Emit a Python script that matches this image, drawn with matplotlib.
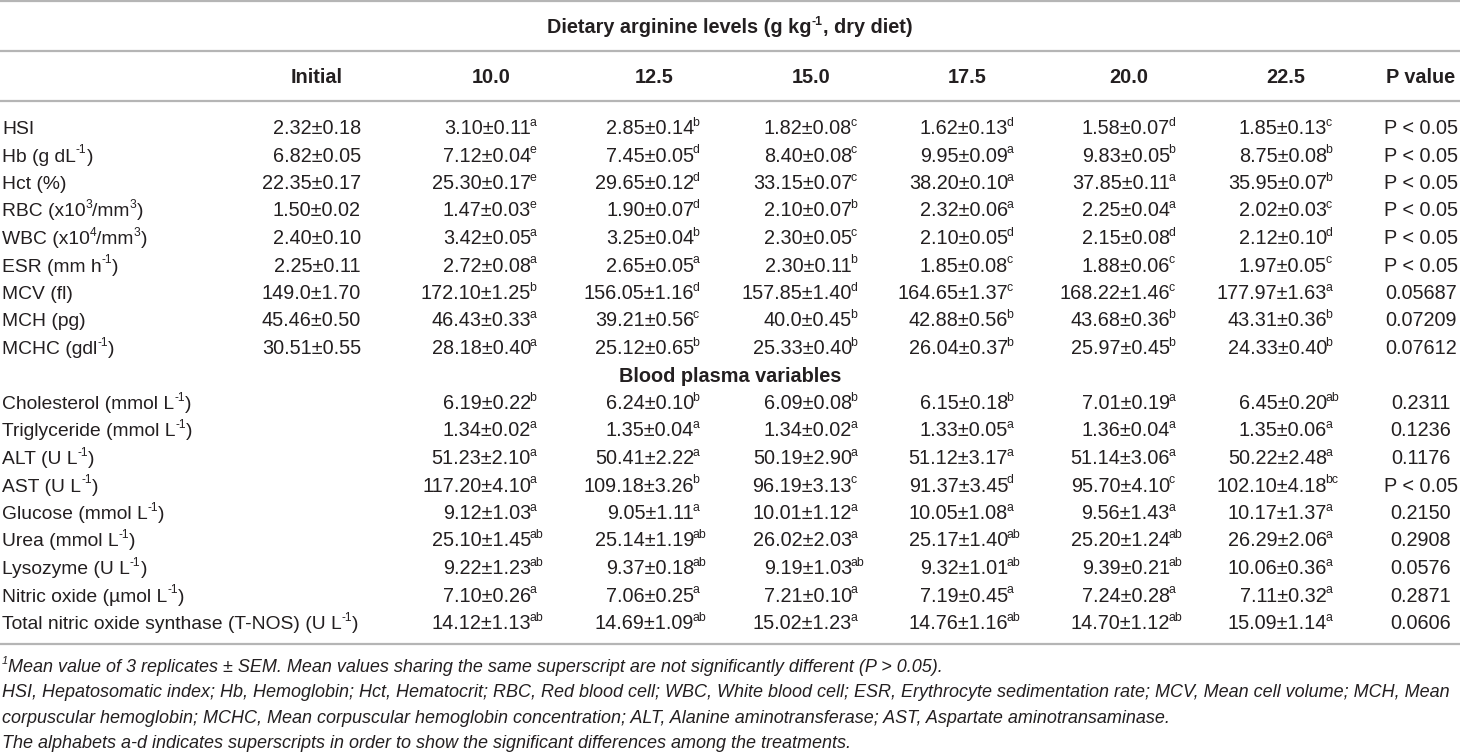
import re
import matplotlib
matplotlib.use('Agg')
import matplotlib.pyplot as plt
import matplotlib.transforms as mtransforms

plt.rcParams['font.family'] = ['Liberation Sans', 'DejaVu Sans']

# --- Table content ---
title = 'Dietary arginine levels (g kg^{-1}, dry diet)'
columns = ['Initial', '10.0', '12.5', '15.0', '17.5', '20.0', '22.5', 'P value']
plasma_title = 'Blood plasma variables'

hema_labels = ['HSI', 'Hb (g dL^{-1})', 'Hct (%)', 'RBC (x10^{3}/mm^{3})', 'WBC (x10^{4}/mm^{3})',
               'ESR (mm h^{-1})', 'MCV (fl)', 'MCH (pg)', 'MCHC (gdl^{-1})']
hema_initial = ['2.32±0.18', '6.82±0.05', '22.35±0.17', '1.50±0.02', '2.40±0.10',
                '2.25±0.11', '149.0±1.70', '45.46±0.50', '30.51±0.55']
hema_values = [
    ['3.10±0.11', '2.85±0.14', '1.82±0.08', '1.62±0.13', '1.58±0.07', '1.85±0.13'],
    ['7.12±0.04', '7.45±0.05', '8.40±0.08', '9.95±0.09', '9.83±0.05', '8.75±0.08'],
    ['25.30±0.17', '29.65±0.12', '33.15±0.07', '38.20±0.10', '37.85±0.11', '35.95±0.07'],
    ['1.47±0.03', '1.90±0.07', '2.10±0.07', '2.32±0.06', '2.25±0.04', '2.02±0.03'],
    ['3.42±0.05', '3.25±0.04', '2.30±0.05', '2.10±0.05', '2.15±0.08', '2.12±0.10'],
    ['2.72±0.08', '2.65±0.05', '2.30±0.11', '1.85±0.08', '1.88±0.06', '1.97±0.05'],
    ['172.10±1.25', '156.05±1.16', '157.85±1.40', '164.65±1.37', '168.22±1.46', '177.97±1.63'],
    ['46.43±0.33', '39.21±0.56', '40.0±0.45', '42.88±0.56', '43.68±0.36', '43.31±0.36'],
    ['28.18±0.40', '25.12±0.65', '25.33±0.40', '26.04±0.37', '25.97±0.45', '24.33±0.40'],
]
hema_letters = [
    ['a', 'b', 'c', 'd', 'd', 'c'],
    ['e', 'd', 'c', 'a', 'b', 'b'],
    ['e', 'd', 'c', 'a', 'a', 'b'],
    ['e', 'd', 'b', 'a', 'a', 'c'],
    ['a', 'b', 'c', 'd', 'd', 'd'],
    ['a', 'a', 'b', 'c', 'c', 'c'],
    ['b', 'd', 'd', 'c', 'c', 'a'],
    ['a', 'c', 'b', 'b', 'b', 'b'],
    ['a', 'b', 'b', 'b', 'b', 'b'],
]
hema_p = ['P < 0.05', 'P < 0.05', 'P < 0.05', 'P < 0.05', 'P < 0.05', 'P < 0.05',
          '0.05687', '0.07209', '0.07612']

plasma_labels = ['Cholesterol (mmol L^{-1})', 'Triglyceride (mmol L^{-1})', 'ALT (U L^{-1})',
                 'AST (U L^{-1})', 'Glucose (mmol L^{-1})', 'Urea (mmol L^{-1})',
                 'Lysozyme (U L^{-1})', 'Nitric oxide (µmol L^{-1})',
                 'Total nitric oxide synthase (T-NOS) (U L^{-1})']
plasma_values = [
    ['6.19±0.22', '6.24±0.10', '6.09±0.08', '6.15±0.18', '7.01±0.19', '6.45±0.20'],
    ['1.34±0.02', '1.35±0.04', '1.34±0.02', '1.33±0.05', '1.36±0.04', '1.35±0.06'],
    ['51.23±2.10', '50.41±2.22', '50.19±2.90', '51.12±3.17', '51.14±3.06', '50.22±2.48'],
    ['117.20±4.10', '109.18±3.26', '96.19±3.13', '91.37±3.45', '95.70±4.10', '102.10±4.18'],
    ['9.12±1.03', '9.05±1.11', '10.01±1.12', '10.05±1.08', '9.56±1.43', '10.17±1.37'],
    ['25.10±1.45', '25.14±1.19', '26.02±2.03', '25.17±1.40', '25.20±1.24', '26.29±2.06'],
    ['9.22±1.23', '9.37±0.18', '9.19±1.03', '9.32±1.01', '9.39±0.21', '10.06±0.36'],
    ['7.10±0.26', '7.06±0.25', '7.21±0.10', '7.19±0.45', '7.24±0.28', '7.11±0.32'],
    ['14.12±1.13', '14.69±1.09', '15.02±1.23', '14.76±1.16', '14.70±1.12', '15.09±1.14'],
]
plasma_letters = [
    ['b', 'b', 'b', 'b', 'a', 'ab'],
    ['a', 'a', 'a', 'a', 'a', 'a'],
    ['a', 'a', 'a', 'a', 'a', 'a'],
    ['a', 'b', 'c', 'd', 'c', 'bc'],
    ['a', 'a', 'a', 'a', 'a', 'a'],
    ['ab', 'ab', 'a', 'ab', 'ab', 'a'],
    ['ab', 'ab', 'ab', 'ab', 'ab', 'a'],
    ['a', 'a', 'a', 'a', 'a', 'a'],
    ['ab', 'ab', 'a', 'ab', 'ab', 'a'],
]
plasma_p = ['0.2311', '0.1236', '0.1176', 'P < 0.05', '0.2150', '0.2908', '0.0576', '0.2871', '0.0606']

footnotes = [
    '^{1}Mean value of 3 replicates ± SEM. Mean values sharing the same superscript are not significantly different (P > 0.05).',
    'HSI, Hepatosomatic index; Hb, Hemoglobin; Hct, Hematocrit; RBC, Red blood cell; WBC, White blood cell; '
    'ESR, Erythrocyte sedimentation rate; MCV, Mean cell volume; MCH, Mean',
    'corpuscular hemoglobin; MCHC, Mean corpuscular hemoglobin concentration; ALT, Alanine aminotransferase; '
    'AST, Aspartate aminotransaminase.',
    'The alphabets a-d indicates superscripts in order to show the significant differences among the treatments.',
]

# --- Layout (pixels, measured from the top-left) ---
W, H = 1460, 754
FS = 14.3
FS_LABEL = 13.9
FS_NOTE = 13.0
TXT = '#231f20'
LINE = '#b5b5b5'
header_x = [317, 491, 654, 811, 967, 1129, 1286, 1421]
value_right = [361, 531, 694, 852, 1008, 1170, 1327]
p_center = 1421
row0, row_step = 127.5, 27.5
hlines = [1, 51, 101, 644]

fig = plt.figure(figsize=(W / 100, H / 100), dpi=100)
renderer = fig.canvas.get_renderer()
ident = mtransforms.IdentityTransform()


def runs(s):
    # split "abc^{x}def" into [(text, is_superscript), ...]
    parts = re.split(r'\^\{(.*?)\}', s)
    return [(p, i % 2 == 1) for i, p in enumerate(parts) if p]


def put(x, y, s, ha='left', size=FS, **kw):
    # y is the baseline, in pixels from the top
    items = []
    for txt, sup in runs(s):
        t = fig.text(0, 0, txt, fontsize=size * 0.62 if sup else size, color=TXT,
                     transform=ident, ha='left', va='baseline', **kw)
        items.append((t, sup, t.get_window_extent(renderer).width))
    total = sum(w for _, _, w in items)
    x0 = {'left': x, 'center': x - total / 2, 'right': x - total}[ha]
    for t, sup, w in items:
        t.set_position((x0, H - y + (size * 0.42 * 100 / 72 if sup else 0)))
        x0 += w


def put_value(xr, y, main, letter):
    fig.text(xr, H - y, main, fontsize=FS, color=TXT, transform=ident, ha='right', va='baseline')
    if letter:
        fig.text(xr - 1.5, H - y + FS * 0.42 * 100 / 72, letter, fontsize=FS * 0.62, color=TXT,
                 transform=ident, ha='left', va='baseline')


for yl in hlines:
    fig.add_artist(plt.Line2D([0, W], [H - yl, H - yl], transform=ident, color=LINE, lw=1.6))

# title and column headers
put(730, 33, title, ha='center', weight='bold')
for x, c in zip(header_x, columns):
    put(x, 83, c, ha='center', weight='bold')


def baseline(i):
    return row0 + row_step * i + 6.5


# hematology rows
for i, lab in enumerate(hema_labels):
    yb = baseline(i)
    put(2, yb, lab, size=FS_LABEL)
    put_value(value_right[0], yb, hema_initial[i], '')
    for j in range(6):
        put_value(value_right[j + 1], yb, hema_values[i][j], hema_letters[i][j])
    put(p_center, yb, hema_p[i], ha='center')

# plasma section
put(730, baseline(len(hema_labels)), plasma_title, ha='center', weight='bold')
for k, lab in enumerate(plasma_labels):
    yb = baseline(len(hema_labels) + 1 + k)
    put(2, yb, lab, size=FS_LABEL)
    for j in range(6):
        put_value(value_right[j + 1], yb, plasma_values[k][j], plasma_letters[k][j])
    put(p_center, yb, plasma_p[k], ha='center')

# footnotes
for k, note in enumerate(footnotes):
    put(2, 672 + 25.3 * k, note, size=FS_NOTE, style='italic')

fig.savefig('out.png', dpi=100)
